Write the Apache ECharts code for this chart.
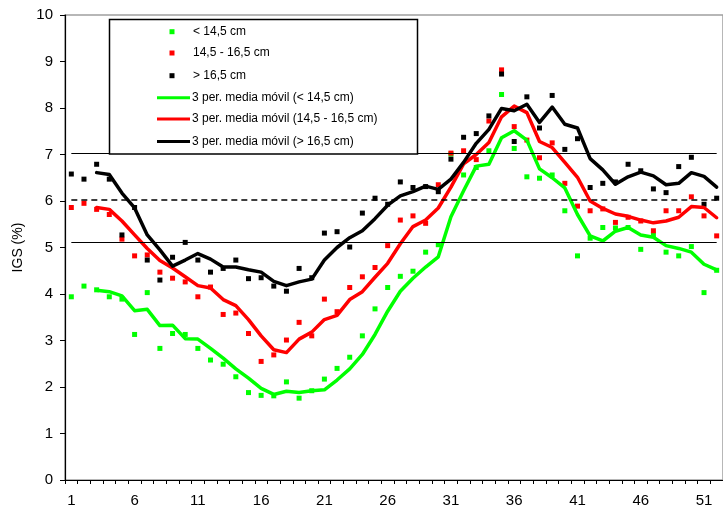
<!DOCTYPE html>
<html>
<head>
<meta charset="utf-8">
<script src="https://cdn.jsdelivr.net/npm/echarts@6/dist/echarts.min.js"></script>
<style>
  html, body { margin: 0; padding: 0; background: #fff; }
  #chart { width: 723px; height: 511px; }
</style>
</head>
<body>
<div id="chart"></div>
<script>
// Weeks of the year (x categories)
const weeks = ['1','2','3','4','5','6','7','8','9','10','11','12','13','14','15','16','17','18','19','20',
  '21','22','23','24','25','26','27','28','29','30','31','32','33','34','35','36','37','38','39','40',
  '41','42','43','44','45','46','47','48','49','50','51','52'];

// Weekly IGS (%) by size class
const small = [3.94,4.17,4.09,3.94,3.89,3.13,4.03,2.83,3.15,3.13,2.83,2.58,2.49,2.22,1.88,1.82,1.81,2.11,1.76,1.92,
  2.17,2.40,2.64,3.10,3.68,4.14,4.38,4.49,4.90,5.06,7.01,6.56,6.72,7.08,8.29,7.13,6.52,6.49,6.56,5.79,
  4.82,5.20,5.43,5.42,5.43,4.96,5.27,4.90,4.82,5.02,4.03,4.51];
const medium = [5.86,5.95,5.82,5.71,5.18,4.82,4.84,4.47,4.34,4.26,3.94,4.15,3.56,3.59,3.15,2.55,2.69,3.01,3.39,3.10,
  3.89,3.62,4.14,4.37,4.57,5.04,5.59,5.68,5.52,6.35,7.03,7.08,6.89,7.72,8.82,7.60,7.31,6.93,7.25,6.38,
  5.89,5.79,5.83,5.54,5.65,5.57,5.36,5.79,5.79,6.09,5.68,5.25];
const large = [6.58,6.47,6.79,6.47,5.27,5.86,4.73,4.30,4.79,5.11,4.73,4.47,4.55,4.73,4.33,4.35,4.17,4.06,4.55,4.35,
  5.31,5.34,5.01,5.74,6.06,5.93,6.41,6.29,6.31,6.20,6.90,7.37,7.45,7.83,8.73,7.28,8.24,7.57,8.27,7.11,
  7.34,6.29,6.38,6.41,6.79,6.65,6.26,6.18,6.74,6.94,5.93,6.06];

// 3-period moving averages
const smallAvg = [null,null,4.08,4.05,3.96,3.64,3.67,3.32,3.33,3.04,3.03,2.83,2.62,2.39,2.19,1.97,1.84,1.91,1.88,1.92,
  1.94,2.15,2.39,2.70,3.13,3.63,4.06,4.34,4.58,4.80,5.66,6.22,6.75,6.79,7.36,7.51,7.31,6.69,6.50,6.28,
  5.71,5.25,5.14,5.35,5.43,5.27,5.22,5.04,4.98,4.90,4.64,4.52];
const mediumAvg = [null,null,5.86,5.82,5.57,5.27,4.98,4.72,4.56,4.37,4.18,4.13,3.88,3.75,3.45,3.10,2.80,2.74,3.03,3.18,
  3.45,3.54,3.88,4.05,4.36,4.66,5.08,5.45,5.59,5.85,6.30,6.80,7.00,7.26,7.81,8.04,7.90,7.28,7.15,6.83,
  6.51,6.00,5.84,5.72,5.67,5.59,5.53,5.57,5.65,5.88,5.86,5.64];
const largeAvg = [null,null,6.61,6.57,6.17,5.85,5.27,4.95,4.60,4.73,4.87,4.75,4.58,4.58,4.52,4.47,4.27,4.18,4.26,4.32,
  4.73,5.00,5.21,5.36,5.62,5.91,6.11,6.20,6.32,6.25,6.47,6.83,7.24,7.54,7.99,7.94,8.08,7.69,8.02,7.65,
  7.57,6.91,6.67,6.36,6.52,6.62,6.54,6.35,6.38,6.61,6.53,6.30];

// Reference levels
const refUpper = 7.02;
const refMid = 6.03;
const refLower = 5.12;

const names = ['< 14,5 cm', '14,5 - 16,5 cm', '> 16,5 cm',
  '3 per. media móvil (< 14,5 cm)', '3 per. media móvil (14,5 - 16,5 cm)', '3 per. media móvil (> 16,5 cm)'];
const colors = ['#00ff00', '#ff0000', '#000000'];

const FONT = 'Liberation Sans, Arial, sans-serif';

function scatterSeries(name, data, color) {
  return { name, type: 'scatter', data, symbol: 'rect', symbolSize: 5,
    itemStyle: { color, opacity: 1 }, silent: true, z: 3 };
}
function avgSeries(name, data, color) {
  return { name, type: 'line', data, showSymbol: false, symbol: 'none',
    lineStyle: { color, width: 3.5, cap: 'round', join: 'round' },
    itemStyle: { color }, silent: true, z: 4 };
}

// Legend box drawn as graphic elements
const legendRows = [31.7, 53, 75.7, 97.7, 119, 141.5];
const legendGraphics = [
  { type: 'rect', shape: { x: 109.5, y: 19.5, width: 308, height: 134.5 },
    style: { fill: '#fff', stroke: '#000', lineWidth: 1.5 }, z: 100 }
];
for (let i = 0; i < 3; i++) {
  legendGraphics.push({ type: 'rect', shape: { x: 169.5, y: legendRows[i] - 2.5, width: 5, height: 5 },
    style: { fill: colors[i] }, z: 101 });
  legendGraphics.push({ type: 'text', x: 193, y: legendRows[i],
    style: { text: names[i], fontSize: 12, fontFamily: FONT, fill: '#000', verticalAlign: 'middle' }, z: 101 });
}
for (let i = 0; i < 3; i++) {
  const y = legendRows[i + 3];
  legendGraphics.push({ type: 'line', shape: { x1: 157, y1: y, x2: 190, y2: y },
    style: { stroke: colors[i], lineWidth: 3 }, z: 101 });
  legendGraphics.push({ type: 'text', x: 192, y: y,
    style: { text: names[i + 3], fontSize: 12, fontFamily: FONT, fill: '#000', verticalAlign: 'middle' }, z: 101 });
}

function refLine(value, type) {
  return [{ coord: ['1', value] }, { coord: ['52', value],
    lineStyle: { color: '#000', width: type === 'dashed' ? 1.5 : 1.2, type: type === 'dashed' ? [6, 4] : 'solid' } }];
}

const chart = echarts.init(document.getElementById('chart'), null, { renderer: 'canvas' });
chart.setOption({
  animation: false,
  backgroundColor: '#fff',
  textStyle: { fontFamily: FONT },
  grid: { left: 65, top: 15, width: 666, height: 465, show: true,
    borderColor: '#a0a0a0', borderWidth: 1.5, backgroundColor: 'transparent' },
  xAxis: {
    type: 'category', data: weeks, boundaryGap: true,
    axisLine: { lineStyle: { color: '#000', width: 1.2 } },
    axisTick: { show: true, interval: 0, length: 4, lineStyle: { color: '#000', width: 1 } },
    axisLabel: { interval: 4, color: '#000', fontSize: 15, fontFamily: FONT, margin: 13 },
    splitLine: { show: false }
  },
  yAxis: {
    type: 'value', min: 0, max: 10, interval: 1,
    name: 'IGS (%)', nameLocation: 'middle', nameGap: 38, nameRotate: 90,
    nameTextStyle: { color: '#000', fontSize: 14, fontFamily: FONT },
    axisLine: { show: true, lineStyle: { color: '#000', width: 1.2 } },
    axisTick: { show: true, length: 5, lineStyle: { color: '#000', width: 1 } },
    axisLabel: { color: '#000', fontSize: 15, fontFamily: FONT, margin: 12 },
    splitLine: { show: false }
  },
  graphic: legendGraphics,
  series: [
    { type: 'line', data: [], silent: true, z: 2,
      markLine: { silent: true, symbol: ['none', 'none'], label: { show: false },
        data: [refLine(refUpper, 'solid'), refLine(refMid, 'dashed'), refLine(refLower, 'solid')] } },
    scatterSeries(names[0], small, colors[0]),
    scatterSeries(names[1], medium, colors[1]),
    scatterSeries(names[2], large, colors[2]),
    avgSeries(names[3], smallAvg, colors[0]),
    avgSeries(names[4], mediumAvg, colors[1]),
    avgSeries(names[5], largeAvg, colors[2])
  ]
});
</script>
</body>
</html>
